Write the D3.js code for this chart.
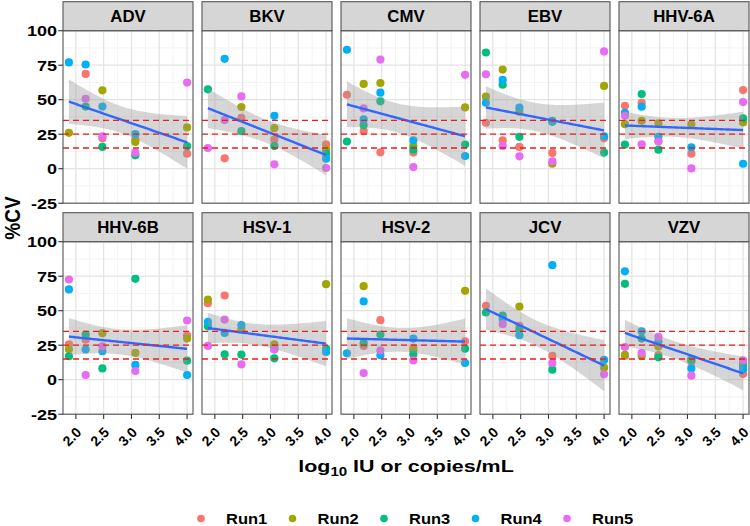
<!DOCTYPE html>
<html><head><meta charset="utf-8">
<script src="https://cdn.jsdelivr.net/npm/d3@7"></script>
<style>
body{margin:0;background:#fff}
svg{display:block}
text{font-family:"Liberation Sans",Arial,Helvetica,sans-serif;font-weight:bold;fill:#000}
</style>
</head><body>
<svg id="chart" width="750" height="526"></svg>
<script>
// ---------------- data ----------------
const viruses = ["ADV","BKV","CMV","EBV","HHV-6A","HHV-6B","HSV-1","HSV-2","JCV","VZV"];
const levels = [1.875, 2.176, 2.477, 3.07, 4.0];          // log10 IU or copies/mL
const runNames = ["Run1","Run2","Run3","Run4","Run5"];
const runColors = ["#F8766D","#A3A500","#00BF7D","#00B0F6","#E76BF3"];
// %CV per virus (rows, same order as viruses) and per level (columns)
const run1 = [
  [null,68.7,22,21,10.9],[null,7.5,36.9,21.1,17.7],[53.6,27.4,11.9,11.7,null],[33.3,20.6,15.8,11.4,22],
  [45.6,47.8,20,10.9,57],[25.7,29,null,null,32],[55.4,61,null,24,null],[null,24.5,43.1,23.2,27.8],
  [53.5,null,39,17.2,null],[17.2,null,17.9,13,4.1]];
const run2 = [
  [26,null,56.8,19.4,29.9],[null,null,44.7,29.4,14],[null,61.4,62.1,16.5,44.4],[52.2,71.8,41.3,3.6,60],
  [32.3,34.7,32.8,32,33.5],[22,null,33.7,19.4,29.8],[58.1,null,36.3,25.7,69.2],[null,67.8,null,21.3,64.4],
  [null,null,53,null,8.7],[18,17.2,24,14.5,12]];
const run3 = [
  [null,45,15.8,9.7,16.3],[57.5,null,27.2,16.5,11],[19.7,31.6,48.8,13.8,17.5],[84.2,60.9,23.1,34,11.7],
  [17.5,54.1,13.8,null,36.4],[17,32.7,8.2,73.1,13.8],[38.7,18.4,18.2,15.5,22.3],[null,26.6,32.7,18.4,22.5],
  [48.7,46.5,36.3,7.3,null],[69.5,29.8,16.2,14.5,10]];
const run4 = [
  [77,75.5,45,25,null],[null,79.6,null,38.3,7.3],[86.2,35.7,55.1,20.6,9.2],[47.8,64.3,44.2,34.7,23.5],
  [40.5,44.9,23.1,15.5,3.6],[65.4,21.8,20.6,10.7,3.4],[41.9,33.9,39.5,22,20.1],[19.1,56.7,17.7,29.8,12.1],
  [null,44,32.2,83,14.3],[78.5,35.1,27.8,8.2,7.5]];
const run5 = [
  [null,50.7,23.5,11.6,62.4],[15,35.2,52.4,3.2,0.5],[null,43.7,79.1,1.2,68],[68.4,16.5,9,5.3,85],
  [38.3,17.7,19.7,0.2,48.3],[72.6,3.4,24.2,6.3,42.9],[24.5,43.6,11.1,21.8,null],[null,4.8,21.3,14,null],
  [null,40.2,null,12.1,3.9],[23.7,19.4,31,2.9,14]];
const runs = [run1,run2,run3,run4,run5];
const yTicks = [-25,0,25,50,75,100];
const xTicks = [2.0,2.5,3.0,3.5,4.0];
const refLines = [15,25,35];

// ---------------- layout ----------------
const svg = d3.select("#chart");
const panelW = 130, panelH = 172.5, stripH = 29;
const colX = c => 63 + c*139;
const rowY = r => r===0 ? 30.7 : 241.7;

const x = d3.scaleLinear().domain([1.76875, 4.10625]).range([0, panelW]);
const y = d3.scaleLinear().domain([-25, 100]).range([panelH, 0]);

function tq(df){ // 0.975 quantile of Student t (Cornish-Fisher expansion)
  const z=1.959964, z3=z*z*z, z5=z3*z*z, z7=z5*z*z;
  return z + (z3+z)/(4*df) + (5*z5+16*z3+3*z)/(96*df*df) + (3*z7+19*z5+17*z3-15*z)/(384*df*df*df);
}
function lmFit(pts){
  const n=pts.length, mx=d3.mean(pts,d=>d.x), my=d3.mean(pts,d=>d.y);
  let sxx=0,sxy=0; pts.forEach(d=>{sxx+=(d.x-mx)**2; sxy+=(d.x-mx)*(d.y-my);});
  const b=sxy/sxx, a=my-b*mx;
  let sse=0; pts.forEach(d=>{sse+=(d.y-a-b*d.x)**2;});
  const s=Math.sqrt(sse/(n-2)), t=tq(n-2);
  const [x0,x1]=d3.extent(pts,d=>d.x);
  return d3.range(80).map(i=>{
    const xv=x0+(x1-x0)*i/79, f=a+b*xv, se=s*Math.sqrt(1/n+(xv-mx)**2/sxx);
    return {x:xv, fit:f, lo:f-t*se, hi:f+t*se};
  });
}
function txt(g, str, tx, ty, opts){
  const sx = opts.sx||1, rot = opts.rot||0;
  return g.append("text")
    .attr("transform", `translate(${tx},${ty}) scale(${sx},1) rotate(${rot})`)
    .attr("text-anchor", opts.anchor||"middle")
    .attr("font-size", opts.size)
    .attr("dy", opts.dy||0)
    .text(str);
}

viruses.forEach((v, vi) => {
  const r = Math.floor(vi/5), c = vi%5;
  const px = colX(c), py = rowY(r);
  const g = svg.append("g").attr("transform", `translate(${px},${py})`);
  // strip
  svg.append("rect").attr("x",px).attr("y",py-stripH).attr("width",panelW).attr("height",stripH)
    .attr("fill","#d6d6d6").attr("stroke","#555").attr("stroke-width",1.1);
  txt(svg, v, px+panelW/2, py-stripH/2+6, {size:"16.3px", sx:1.03});
  // panel background and grid
  g.append("rect").attr("width",panelW).attr("height",panelH).attr("fill","#fff");
  const xMinor = [2.25,2.75,3.25,3.75], yMinor = [-12.5,12.5,37.5,62.5,87.5];
  g.selectAll(".vmin").data(xMinor).join("line").attr("x1",d=>x(d)).attr("x2",d=>x(d)).attr("y1",0).attr("y2",panelH)
    .attr("stroke","#eeeeee").attr("stroke-width",0.7);
  g.selectAll(".hmin").data(yMinor).join("line").attr("y1",d=>y(d)).attr("y2",d=>y(d)).attr("x1",0).attr("x2",panelW)
    .attr("stroke","#eeeeee").attr("stroke-width",0.7);
  g.selectAll(".vmaj").data(xTicks).join("line").attr("x1",d=>x(d)).attr("x2",d=>x(d)).attr("y1",0).attr("y2",panelH)
    .attr("stroke","#e3e3e3").attr("stroke-width",1.2);
  g.selectAll(".hmaj").data(yTicks).join("line").attr("y1",d=>y(d)).attr("y2",d=>y(d)).attr("x1",0).attr("x2",panelW)
    .attr("stroke","#e3e3e3").attr("stroke-width",1.2);
  // points
  const pts = [];
  runs.forEach((run, ri) => run[vi].forEach((val, li) => {
    if (val !== null) pts.push({x: levels[li], y: val, run: ri});
  }));
  g.selectAll(".pt").data(pts).join("circle")
    .attr("cx",d=>x(d.x)).attr("cy",d=>y(d.y)).attr("r",4.1)
    .attr("fill",d=>runColors[d.run]);
  // linear smooth with 95% CI
  const fit = lmFit(pts);
  g.append("path").datum(fit)
    .attr("d", d3.area().x(d=>x(d.x)).y0(d=>y(d.lo)).y1(d=>y(d.hi)))
    .attr("fill","#999999").attr("fill-opacity",0.4);
  g.append("path").datum(fit)
    .attr("d", d3.line().x(d=>x(d.x)).y(d=>y(d.fit)))
    .attr("fill","none").attr("stroke","#3366FF").attr("stroke-width",2.4);
  // reference lines
  g.selectAll(".ref").data(refLines).join("line")
    .attr("x1",0).attr("x2",panelW).attr("y1",d=>y(d)).attr("y2",d=>y(d))
    .attr("stroke","#ee1c1c").attr("stroke-width",1.3).attr("stroke-dasharray","6,4");
  // border
  g.append("rect").attr("width",panelW).attr("height",panelH).attr("fill","none")
    .attr("stroke","#555").attr("stroke-width",1.1);
  // axes
  if (c === 0) {
    g.selectAll(".yt").data(yTicks).join("line").attr("x1",-4.7).attr("x2",0)
      .attr("y1",d=>y(d)).attr("y2",d=>y(d)).attr("stroke","#333").attr("stroke-width",1.1);
    yTicks.forEach(t => txt(g, String(t), -6, y(t), {size:"15px", sx:1.2, anchor:"end", dy:"0.36em"}));
  }
  if (r === 1) {
    g.selectAll(".xt").data(xTicks).join("line").attr("y1",panelH).attr("y2",panelH+4.7)
      .attr("x1",d=>x(d)).attr("x2",d=>x(d)).attr("stroke","#333").attr("stroke-width",1.1);
    xTicks.forEach(t => txt(g, d3.format(".1f")(t), x(t)-0.5, panelH+12, {size:"14px", sx:1, anchor:"end", rot:-45, dy:"0.7em"}));
  }
});

// axis titles
const xt = svg.append("text")
  .attr("transform","translate(406,471.7) scale(1.26,1)")
  .attr("text-anchor","middle").attr("font-size","17px");
xt.append("tspan").text("log");
xt.append("tspan").attr("font-size","12px").attr("dy","4").text("10");
xt.append("tspan").attr("dy","-4").text(" IU or copies/mL");
txt(svg, "%CV", 19.5, 218, {size:"19px", sx:1.2, rot:-90});

// legend
const lg = svg.append("g");
runNames.forEach((n, i) => {
  const cx = 201 + i*91.5;
  lg.append("circle").attr("cx",cx).attr("cy",518.5).attr("r",3.8).attr("fill",runColors[i]);
  txt(lg, n, cx+25, 523.5, {size:"15px", sx:1.1, anchor:"start"});
});
</script>
</body></html>
